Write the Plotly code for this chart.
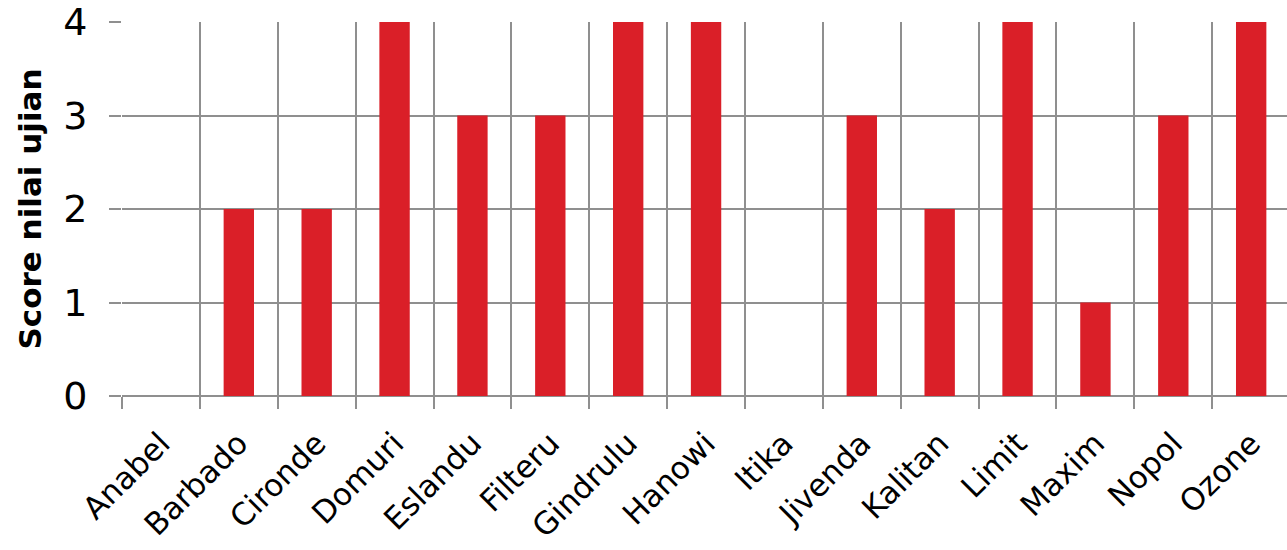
import plotly.graph_objects as go

categories = ["Anabel", "Barbado", "Cironde", "Domuri", "Eslandu", "Filteru", "Gindrulu",
              "Hanowi", "Itika", "Jivenda", "Kalitan", "Limit", "Maxim", "Nopol", "Ozone"]
scores = [0, 2, 2, 4, 3, 3, 4, 4, 0, 3, 2, 4, 1, 3, 4]
y_ticks = [0, 1, 2, 3, 4]
y_title = "Score nilai ujian"

BAR = "#DA1F28"
GRID = "#8f8f8f"
FONT = "DejaVu Sans"

fig = go.Figure(go.Bar(x=categories, y=scores, marker_color=BAR, marker_line_width=0, width=0.39))

fig.update_layout(
    width=1287, height=550,
    margin=dict(l=122, r=0, t=22, b=154),
    plot_bgcolor="white", paper_bgcolor="white",
    showlegend=False,
    font=dict(family=FONT, color="black"),
)
fig.update_xaxes(
    type="category", range=[-0.5, 14.46], automargin=False,
    tickson="boundaries", showgrid=True, gridcolor=GRID, gridwidth=1.5,
    ticks="outside", ticklen=12, tickcolor=GRID, tickwidth=1.5,
    tickangle=-45, tickfont=dict(size=31, family=FONT, color="black"),
    showline=False, ticklabelstandoff=22,
)
fig.update_yaxes(
    range=[0, 4], tickvals=y_ticks, automargin=False,
    showgrid=True, gridcolor=GRID, gridwidth=1.5,
    ticks="outside", ticklen=12, tickcolor=GRID, tickwidth=1.5,
    tickfont=dict(size=38, family=FONT, color="black"),
    zeroline=True, zerolinecolor=GRID, zerolinewidth=1.5, showline=False,
    ticklabelstandoff=14,
    title=dict(text="<b>" + y_title + "</b>", font=dict(size=31, family=FONT, color="black"), standoff=12),
)

fig.write_html("out.html")
